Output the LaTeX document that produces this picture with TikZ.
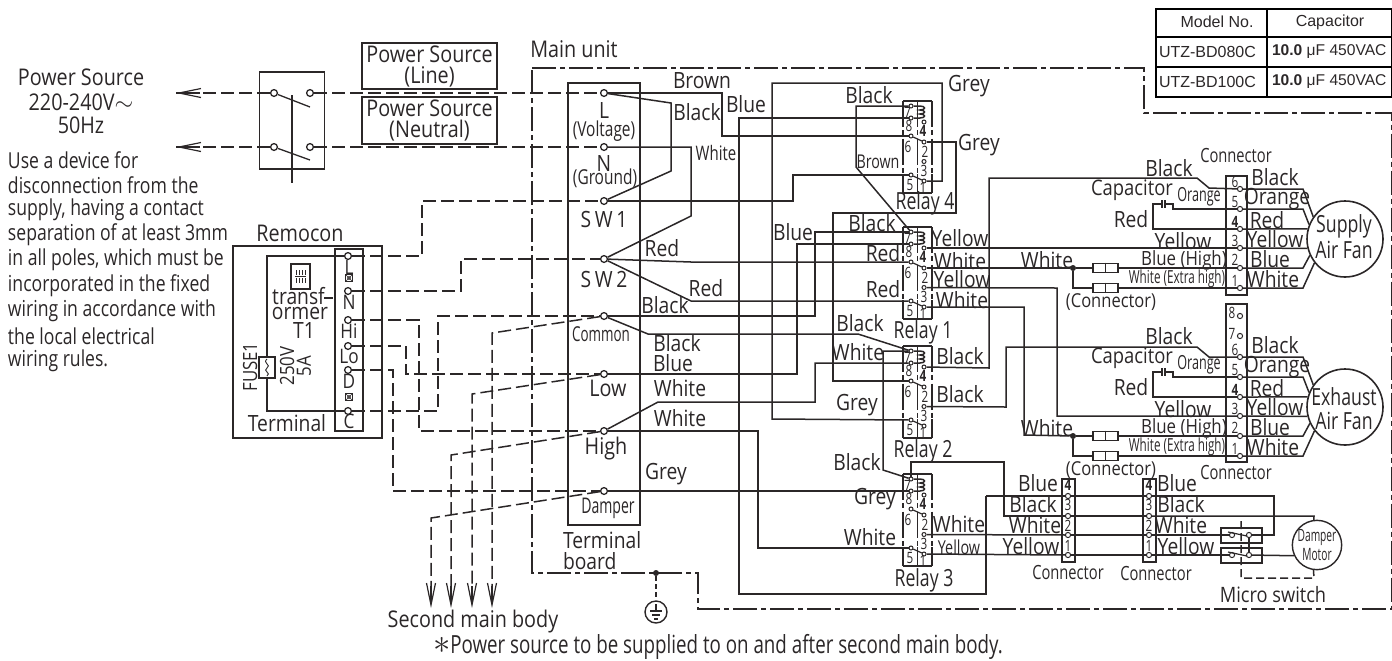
\documentclass[tikz,border=0pt]{standalone}
\usepackage{fontspec}
\setmainfont[FakeStretch=0.86]{Open Sans}
\newfontfamily\dsc[FakeStretch=0.8]{Open Sans}
\newfontfamily\cf[FakeStretch=0.75]{Open Sans}
\newfontfamily\cn[FakeStretch=0.65]{Open Sans}
\newfontfamily\xcond[FakeStretch=0.6]{Open Sans}
\newfontfamily\tabf{Liberation Sans}
\usetikzlibrary{arrows.meta}
\definecolor{ink}{HTML}{2B2728}
\newcounter{lbc}
\newcommand\sz[1]{\fontsize{#1}{#1}\selectfont}
\newcommand\lb[4][]{\stepcounter{lbc}\node[lbl,#1] (lb\arabic{lbc}) at (#2,#3) {#4};}
\tikzset{
 lbl/.style={inner sep=0pt,outer sep=0pt,text=ink,font=\sz{11.2}},
 big/.style={font=\sz{11.5}},
 sm/.style={font=\cf\sz{7.8}},
 conn/.style={font=\cf\sz{9.8}},
 rel/.style={font=\cf\sz{11.8}},
 ds/.style={anchor=west,font=\dsc\sz{11}},
 wire/.style={draw=ink,line width=.75pt,line join=miter},
 thin wire/.style={draw=ink,line width=.6pt},
 dw/.style={wire,dash pattern=on 6.5pt off 2.5pt},
 frame/.style={wire,dash pattern=on 12pt off 2pt on 2.5pt off 2pt},
 dsw/.style={wire,line width=.7pt,dash pattern=on 2.8pt off 1.6pt},
 tm/.style={circle,draw=ink,line width=.65pt,inner sep=0pt,minimum size=3.4pt,fill=white},
 rt/.style={circle,draw=ink,line width=.5pt,inner sep=0pt,minimum size=2pt,fill=white},
 jn/.style={circle,fill=ink,inner sep=0pt,minimum size=3pt},
 barb/.style={-{Straight Barb[length=11pt,width=4.5pt]},wire,line width=.6pt},
 inl/.style={rectangle,draw=ink,line width=.7pt,inner sep=0pt,minimum width=12.5pt,minimum height=4.6pt,fill=white},
 tbl/.style={draw=black,line width=.9pt},
 tbt/.style={inner sep=0pt,outer sep=0pt,text=ink,font=\tabf\sz{8}},
}
\newcommand\relay[2]{% name, top
 \draw[wire] (903,#2) -- (932,#2);
 \draw[wire] (903,#2+92) -- (932,#2+92);
 \foreach \xx in {903,917.5,932}{
  \draw[wire] (\xx,#2) -- (\xx,#2+20);
  \draw[wire] (\xx,#2+38) -- (\xx,#2+58);
  \draw[wire] (\xx,#2+73) -- (\xx,#2+92);
  \draw[dsw] (\xx,#2+20) -- (\xx,#2+38);
  \draw[dsw] (\xx,#2+58) -- (\xx,#2+73);
 }
 \node[rt] (#1t7) at (911,#2+5) {};
 \node[rt] (#1t8) at (911,#2+17) {};
 \node[rt] (#1t6) at (911,#2+35) {};
 \node[rt] (#1t5) at (911,#2+74) {};
 \node[rt] (#1t4) at (924,#2+21) {};
 \node[rt] (#1t2) at (924,#2+41) {};
 \node[rt] (#1t3) at (924,#2+60.5) {};
 \node[rt] (#1t1) at (924,#2+80) {};
 \coordinate (#1ca) at (920,#2+5);
 \coordinate (#1cb) at (920,#2+17);
 \draw[wire] (#1t7) -- (#1ca) .. controls (926,#2+5) and (926,#2+9) .. (920,#2+9)
   .. controls (926,#2+9) and (926,#2+13) .. (920,#2+13)
   .. controls (926,#2+13) and (926,#2+17) .. (#1cb) -- (#1t8);
 \draw[thin wire] (#1t6) -- (#1t2);
 \draw[thin wire] (#1t5) -- (#1t1);
 \lb[sm]{907.5}{#2+11.5}{7}\lb[sm]{909}{#2+24.5}{8}\lb[sm]{908}{#2+46}{6}\lb[sm]{910}{#2+84}{5}
 \lb[sm]{923}{#2+30}{\textbf{4}}\lb[sm]{925}{#2+51}{2}\lb[sm]{924}{#2+70}{3}\lb[sm]{923}{#2+86.5}{1}
}
\newcommand\fan[4]{% name, dy, text1, y of text1
 \foreach \nn/\yy in {6/189,5/209,4/229,3/248,2/268,1/288}{
  \node[rt,minimum size=2.6pt] (#1\nn) at (1240,\yy+#2) {};
 }
 \node[circle,draw=ink,line width=.8pt,minimum size=38pt,inner sep=0pt] (#1m) at (1345,239+#2) {};
 \draw[wire] (#16) -- (1303,189+#2) -- (#1m.145);
 \draw[wire] (#15) -- (1303,209+#2) -- (#1m.158);
 \draw[wire] (#14) -- (#1m.165);
 \draw[wire] (#13) -- (#1m.194);
 \draw[wire] (#12) -- (1303,268+#2) -- (#1m.205);
 \draw[wire] (#11) -- (1303,288+#2) -- (#1m.218);
 \draw[wire] (#15) -- (1173,209+#2) -- (1173,204+#2) -- (1165,204+#2);
 \draw[wire] (1165,200+#2) -- (1165,208+#2);
 \draw[wire] (1162,200+#2) -- (1162,208+#2);
 \draw[wire] (1162,204+#2) -- (1153,204+#2) -- (1153,229+#2) -- (#14);
 \node[inl] (#1ca) at (1105.5,268+#2) {};
 \node[inl] (#1cb) at (1105.5,288+#2) {};
 \draw[wire] (#1ca.north) -- (#1ca.south);
 \draw[wire] (#1cb.north) -- (#1cb.south);
 \node[jn] (#1d) at (1073,268+#2) {};
 \draw[wire] (#1d) -- (#1ca) (#1ca) -- (#12);
 \draw[wire] (#1d) |- (#1cb);
 \draw[wire] (#1cb) -- (#11);
 \lb{1169}{168+#2}{Black}
 \lb[font=\sz{10.7}]{1132}{190+#2}{Capacitor}
 \lb[font=\cn\sz{9.7}]{1199}{197+#2}{Orange}
 \lb{1131}{219+#2}{Red}
 \lb{1183}{241+#2}{Yellow}
 \lb[font=\sz{9.8}]{1184}{260+#2}{Blue (High)}
 \lb[font=\cn\sz{9}]{1177}{279+#2}{White (Extra high)}
 \lb{1047}{260+#2}{White}
 \lb[font=\sz{9.6}]{1111}{302+#2}{(Connector)}
 \lb{1275}{177+#2}{Black}
 \lb{1277}{199+#2}{Orange}
 \lb{1267}{220+#2}{Red}
 \lb{1275}{239+#2}{Yellow}
 \lb{1270}{259+#2}{Blue}
 \lb{1273}{279+#2}{White}
 \lb[rel]{1344}{#4}{#3}
 \lb[rel]{1344}{#4+24}{Air Fan}
 \lb[sm]{1235}{182+#2}{6}\lb[sm]{1235}{202+#2}{5}\lb[sm]{1235}{222+#2}{\textbf{4}}
 \lb[sm]{1235}{241+#2}{3}\lb[sm]{1235}{260+#2}{2}\lb[sm]{1235}{281+#2}{1}
}
\newcommand\xbox[2]{%
 \draw[ink,line width=.3pt] (#1-3.5,#2-3.5) rectangle (#1+3.5,#2+3.5) (#1-3.5,#2-3.5) -- (#1+3.5,#2+3.5) (#1-3.5,#2+3.5) -- (#1+3.5,#2-3.5) (#1,#2) circle (.9pt);
}
\begin{document}
\begin{tikzpicture}[x=.5pt,y=-.5pt]
\useasboundingbox (0,0) rectangle (1392,660);
% table
\draw[tbl] (1156,9) rectangle (1391.5,97);
\draw[tbl] (1156,37) -- (1391.5,37) (1156,67) -- (1391.5,67) (1267,9) -- (1267,97);
\node[tbt] (th1) at (1217,22) {Model No.};
\node[tbt] (th2) at (1330,22) {Capacitor};
\node[tbt,anchor=west] (tm1) at (1159,52) {UTZ-BD080C};
\node[tbt,anchor=west] (tm2) at (1159,82) {UTZ-BD100C};
\node[tbt,anchor=west,font=\tabf\sz{7.8}] (tc1) at (1272,52) {\textbf{10.0} μF 450VAC};
\node[tbt,anchor=west,font=\tabf\sz{7.8}] (tc2) at (1272,82) {\textbf{10.0} μF 450VAC};
% frame
\coordinate (fa) at (532,68);
\coordinate (fb) at (1144,113);
\coordinate (fc) at (1391.5,609);
\coordinate (fd) at (698,573);
\draw[frame] (fa) -| (fb) -| (fc) -| (fd) -| (fa);
\lb[big]{574}{49}{Main unit}
% left text
\lb[big]{81}{77}{Power Source}
\lb[big]{81}{102}{220-240V$\sim$}
\lb[big]{81}{125}{50Hz}
\lb[ds]{8}{160}{Use a device for}
\lb[ds]{8}{185}{disconnection from the}
\lb[ds]{8}{210}{supply, having a contact}
\lb[ds]{8}{235}{separation of at least 3mm}
\lb[ds]{8}{260}{in all poles, which must be}
\lb[ds]{8}{286}{incorporated in the fixed}
\lb[ds]{8}{311}{wiring in accordance with}
\lb[ds]{8}{336}{the local electrical}
\lb[ds]{8}{361}{wiring rules.}
% power source boxes
\node[draw=ink,line width=.75pt,minimum width=67.5pt,minimum height=23pt,inner sep=0pt,align=center,text=ink,font=\fontsize{11.5}{10.5}\selectfont] (psl) at (429.5,66) {Power Source\\(Line)};
\node[draw=ink,line width=.75pt,minimum width=67.5pt,minimum height=23.5pt,inner sep=0pt,align=center,text=ink,font=\fontsize{11.5}{10.5}\selectfont] (psn) at (429.5,120.5) {Power Source\\(Neutral)};
% breaker
\draw[wire] (259.5,72) rectangle (324.5,169);
\node[tm] (bl1) at (274,93) {};
\node[tm] (br1) at (310,93) {};
\node[tm] (bl2) at (274,147) {};
\node[tm] (br2) at (310,147) {};
\coordinate (pa1) at (176,93);
\coordinate (pa2) at (176,147);
\draw[wire,line width=.65pt] (bl1) -- (310,107);
\draw[wire,line width=.65pt] (bl2) -- (310,160);
\draw[wire,line width=.65pt] (292,95) -- (292,183);
% remocon
\lb[big]{300}{233}{Remocon}
\draw[wire] (233,246) rectangle (382,438);
\draw[wire] (335,249) rectangle (363,431);
\node[tm] (rL) at (348,256) {};
\node[tm] (rN) at (348,291) {};
\node[tm] (rH) at (348,320) {};
\node[tm] (rO) at (348,346) {};
\node[tm] (rD) at (348,370) {};
\node[tm] (rC) at (348,411) {};
\draw[wire] (rL) -- (267,256) -- (267,411) -- (rC);
\lb[font=\sz{10}]{349}{267}{L}\xbox{349}{278}
\lb[font=\sz{10}]{349}{302}{N}\lb[font=\sz{10}]{349}{331}{Hi}\lb[font=\sz{10}]{349}{356}{Lo}\lb[font=\sz{10}]{349}{381}{D}\xbox{349}{397}\lb[font=\sz{10}]{349}{421}{C}
\draw[wire,line width=.6pt] (291,264) rectangle (310,289);
\draw[wire,line width=.5pt] (295,276.5) -- (306,276.5);
\foreach \cx in {296,299,302,305}{
 \draw[wire,line width=.45pt] (\cx,275) -- (\cx,270) (\cx,278) -- (\cx,283);
}
\lb{298.5}{296}{transf}
\draw[wire] (324,298) -- (333,298);
\lb{300}{313}{ormer}
\lb{304}{330}{T1}
\lb[rotate=90,font=\sz{9.8}]{250}{367}{FUSE1}
\lb[rotate=90,font=\sz{9.8}]{287}{366}{250V}
\lb[rotate=90,font=\sz{9.8}]{304}{366}{5A}
\lb{287}{423}{Terminal}
\node[rectangle,draw=ink,line width=.6pt,fill=white,minimum width=8pt,minimum height=10.5pt,inner sep=0pt] (fuse) at (267,367.5) {};
\draw[ink,line width=.45pt] (267,359) .. controls (262,363) and (272,365) .. (267,368) .. controls (262,371) and (272,373) .. (267,376);
% main terminal board
\draw[wire] (568,83) rectangle (640,525);
\foreach \nn/\yy in {mL/93,mN/147,mS/201,mT/259,mC/316,mO/374,mH/431,mD/491}{
 \node[tm] (\nn) at (604,\yy) {};
}
\lb{604}{110}{L}
\lb[font=\cf\sz{10.3}]{604}{131}{(Voltage)}
\lb{604}{163}{N}
\lb[font=\cf\sz{10.3}]{605}{178}{(Ground)}
\lb{604}{219}{S\,W\,1}
\lb{604}{279}{S\,W\,2}
\lb[font=\cn\sz{10.3}]{601}{334}{Common}
\lb[big]{608}{388}{Low}
\lb[big]{606}{449}{High}
\lb[font=\cn\sz{10.8}]{608}{508}{Damper}
\lb[anchor=west]{563}{540}{Terminal}
\lb[anchor=west]{563}{561}{board}
\lb[big]{473}{622}{Second main body}
\lb[anchor=west,font=\cf\sz{12.5}]{433}{647}{{\sz{17}$\ast$}Power source to be supplied to on and after second main body.}
% dashed wires
\draw[dw] (bl1) -- (pa1);
\draw[dw] (bl2) -- (pa2);
\draw[barb] (200,93) -- (pa1);
\draw[barb] (200,147) -- (pa2);
\draw[dw] (br1) -- (mL);
\draw[dw] (br2) -- (mN);
\draw[dw] (rL) -- (422,256) -- (422,201) -- (mS);
\draw[dw] (rN) -- (461,291) -- (461,259) -- (mT);
\draw[dw] (rH) -- (419,320) -- (419,431) -- (mH);
\draw[dw] (rO) -- (406,346) -- (406,374) -- (mO);
\draw[dw] (rD) -- (393,370) -- (393,491) -- (mD);
\draw[dw] (rC) -- (438,411) -- (438,316) -- (mC);
\foreach \nn/\tgt/\xx/\yy in {a/mC/492/333,b/mO/472/394,c/mH/451/455,d/mD/431/518}{
 \coordinate (sb\nn) at (\xx,608);
 \coordinate (sc\nn) at (\xx,586);
 \draw[dw] (\tgt) -- (\xx,\yy) -- (sc\nn);
 \draw[barb] (sc\nn) -- (sb\nn);
}
% relays
\relay{Ra}{101}
\relay{Rb}{227}
\relay{Rc}{346}
\relay{Rd}{474}
\lb[rel]{925}{203}{Relay 4}\lb[rel]{923}{332}{Relay 1}\lb[rel]{923}{451}{Relay 2}\lb[rel]{924}{580}{Relay 3}
% solid wires
\draw[wire] (mL) -- (722,93) -- (722,136) -- (Rat6);
\draw[wire] (mL) -- (671,103) -- (671,171) -- (mS);
\draw[wire] (mN) -- (691,147) -- (691,216) -- (mT);
\draw[wire] (mS) -- (793,201) -- (793,175) -- (Rat5);
\draw[wire] (mT) -- (691,262) -- (Rbt6);
\draw[wire] (mT) -- (691,301) -- (Rbt5);
\draw[wire] (mC) -- (815,316) -- (815,232) -- (Rbt7);
\draw[wire] (mO) -- (797,374) -- (797,244) -- (Rbt8);
\draw[wire] (mC) -- (648,334) -- (858,334) -- (Rct7);
\draw[wire] (Rat7) -- (856,106) -- (856,167) -- (Rbt7);
\draw[wire] (Rat8) -- (739,118) -- (739,594) -- (986,594) -- (986,496) coordinate (bw);
\draw[wire] (Rat1) -- (942,181) -- (942,83) -- (772,83) -- (772,419) -- (Rct5);
\draw[wire] (Rat2) -- (956,142) -- (956,213) -- (833,213) -- (833,381) -- (Rct6);
\draw[wire] (mH) -- (658,402) -- (815,402) -- (815,363) -- (Rct8);
\draw[wire] (mH) -- (758,431) -- (758,548) -- (Rdt5);
\draw[wire] (mD) -- (Rdt8);
\draw[wire] (Rct7) -- (883,351) -- (883,470) -- (Rdt7);
% fans
\fan{S}{0}{Supply}{226}
\fan{E}{168}{Exhaust}{397}
\draw[wire] (1226,176) rectangle (1247,295);
\draw[wire] (1226,304) rectangle (1247,462);
\node[rt,minimum size=2.6pt] (E8) at (1240,316) {};
\node[rt,minimum size=2.6pt] (E7) at (1240,336) {};
\lb[sm]{1232}{313}{8}\lb[sm]{1232}{334}{7}
\draw[wire] (Rbt4) -- (S3);
\draw[wire] (Rbt2) -- (Sd);
\draw[wire] (Rbt3) -- (1057,288) -- (1057,416) -- (E3);
\draw[wire] (Rbt1) -- (1024,307) -- (1024,435) -- (Ed);
\draw[wire] (Rct4) -- (989,368) -- (989,178) -- (1197,178) -- (1209,188) -- (S6);
\draw[wire] (Rct3) -- (1006,407) -- (1006,347) -- (1197,347) -- (1209,357) -- (E6);
% damper connectors
\draw[wire] (1062,479) rectangle (1075,562);
\draw[wire] (1143,479) rectangle (1156,562);
\foreach \nn/\yy in {4/496,3/516,2/535,1/555}{
 \node[rt,minimum size=2.6pt] (A\nn) at (1068,\yy) {};
 \node[rt,minimum size=2.6pt] (B\nn) at (1149,\yy) {};
 \draw[wire] (A\nn) -- (B\nn);
}
\node[circle,draw=ink,line width=.7pt,minimum size=23pt,inner sep=0pt,align=center,font=\xcond\fontsize{8.5}{7.5}\selectfont,text=ink] (DM) at (1317,545) {Damper\\Motor};
\draw[wire] (1221,528) rectangle (1262,543);
\draw[wire] (1221,548) rectangle (1262,563);
\node[rt,minimum size=2.6pt] (u1) at (1232,535) {};
\node[rt,minimum size=2.6pt] (v1) at (1249,535) {};
\node[rt,minimum size=2.6pt] (u2) at (1232,555) {};
\node[rt,minimum size=2.6pt] (v2) at (1249,555) {};
\draw[wire,line width=.6pt] (1228,532) -- (1247,536) (1228,552) -- (1247,556);
\draw[wire] (bw) -- (A4);
\draw[wire] (Rdt7) -- (911,462) -- (1004,462) -- (1004,516) -- (A3);
\draw[wire] (Rdt3) -- (A2);
\draw[wire] (Rdt1) -- (A1);
\draw[wire] (B4) -- (1274,496) -- (1274,535) -- (v1);
\draw[wire] (B3) -- (1314,516) -- (DM.97);
\draw[wire] (B2) -- (u1);
\draw[wire] (B1) -- (u2);
\draw[wire] (v1) -- (v2);
\draw[wire] (v2) -- (DM.205);
\draw[dw,dash pattern=on 4pt off 2pt] (1241,521) -- (1241,578) -- (1314,578) -- (DM.262);
\lb[sm]{1068}{485}{\textbf{4}}\lb[sm]{1068}{505}{3}\lb[sm]{1068}{526}{2}\lb[sm]{1068}{546}{1}
\lb[sm]{1149}{485}{\textbf{4}}\lb[sm]{1149}{505}{3}\lb[sm]{1149}{526}{2}\lb[sm]{1149}{546}{1}
\lb{1038}{483}{Blue}\lb{1033}{504}{Black}\lb{1035}{525}{White}\lb{1031}{546}{Yellow}
\lb{1177}{483}{Blue}\lb{1181}{504}{Black}\lb{1181}{525}{White}\lb{1186}{546}{Yellow}
\lb[conn]{1068}{572}{Connector}\lb[conn]{1156}{573}{Connector}
\lb[font=\sz{10.6}]{1273}{595}{Micro switch}
\lb[conn]{1236}{155}{Connector}\lb[conn]{1236}{472}{Connector}
% ground
\node[jn] (gd) at (656,573) {};
\node[circle,draw=ink,line width=.7pt,minimum size=11pt,inner sep=0pt] (gs) at (656,612) {};
\draw[dw,dash pattern=on 2.5pt off 1.5pt,line width=.6pt] (gd) -- (gs);
\draw[ink,line width=.6pt] (656,604) -- (656,611) (650,611) -- (662,611) (652,615) -- (660,615) (654,619) -- (658,619);
% wire labels
\lb{702}{81}{Brown}\lb{697}{112}{Black}\lb{746}{104}{Blue}\lb[font=\cf\sz{10}]{716}{153}{White}
\lb{869}{95}{Black}\lb{969}{86}{Grey}\lb{979}{145}{Grey}\lb[font=\cf\sz{9.5}]{878}{162}{Brown}
\lb{793}{232}{Blue}\lb{872}{223}{Black}\lb{883}{253}{Red}\lb{883}{289}{Red}
\lb{960}{238}{Yellow}\lb{960}{261}{White}\lb{962}{279}{Yellow}\lb{962}{300}{White}
\lb{860}{323}{Black}
\lb{960}{356}{Black}\lb{960}{394}{Black}\lb{858}{352}{White}\lb{857}{405}{Grey}
\lb{857}{462}{Black}\lb{875}{499}{Grey}\lb{870}{537}{White}\lb{959}{524}{White}\lb[font=\cf\sz{9.6}]{959}{547}{Yellow}
\lb{662}{248}{Red}\lb{706}{288}{Red}\lb{665}{305}{Black}
\lb{677}{343}{Black}\lb{673}{363}{Blue}\lb{680}{388}{White}\lb{680}{418}{White}\lb{666}{474}{Grey}
\end{tikzpicture}
\end{document}
